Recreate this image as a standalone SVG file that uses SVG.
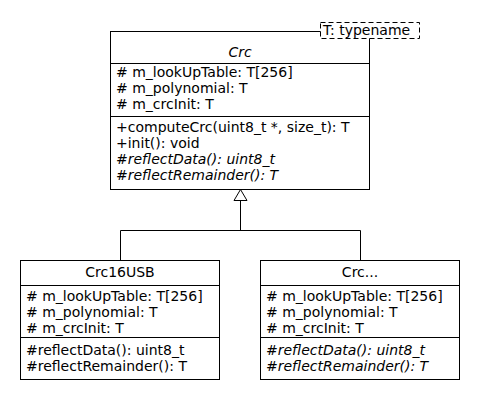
<svg xmlns="http://www.w3.org/2000/svg" width="480" height="400" viewBox="0 0 480 400">
<style>
.box{fill:#fff;stroke:#000;stroke-width:1}
.ln{stroke:#000;stroke-width:1;fill:none}
text{font-family:"DejaVu Sans",sans-serif;font-size:14px;fill:#000}
.it{font-style:italic}
.c{text-anchor:middle}
</style>
<rect width="480" height="400" fill="#fff"/>
<g id="connectors">
<path class="ln" d="M240.5 200.5V230.5M120.5 260V230.5H360.5V260"/>
<polygon points="240.5,189.5 234,200.5 247,200.5" fill="#fff" stroke="#000"/>
</g>
<g id="Crc">
<rect class="box" x="110.5" y="31.5" width="259" height="158"/>
<line class="ln" x1="110.5" y1="63.5" x2="369.5" y2="63.5"/>
<line class="ln" x1="110.5" y1="116.5" x2="369.5" y2="116.5"/>
<text class="it c" x="240" y="57">Crc</text>
<text x="116" y="77"># m_lookUpTable: T[256]</text>
<text x="116" y="93"># m_polynomial: T</text>
<text x="116" y="109"># m_crcInit: T</text>
<text x="116" y="132">+computeCrc(uint8_t *, size_t): T</text>
<text x="116" y="148">+init(): void</text>
<text class="it" x="116" y="164">#reflectData(): uint8_t</text>
<text class="it" x="116" y="180">#reflectRemainder(): T</text>
<rect x="320.5" y="22.5" width="99" height="16" fill="#fff" stroke="#000" stroke-dasharray="5,3"/>
<text x="323" y="35">T: typename</text>
</g>
<g id="Crc16USB">
<rect class="box" x="20.5" y="260.5" width="199" height="119"/>
<line class="ln" x1="20.5" y1="285.5" x2="219.5" y2="285.5"/>
<line class="ln" x1="20.5" y1="337.5" x2="219.5" y2="337.5"/>
<text class="c" x="120" y="277">Crc16USB</text>
<text x="26" y="301"># m_lookUpTable: T[256]</text>
<text x="26" y="317"># m_polynomial: T</text>
<text x="26" y="333"># m_crcInit: T</text>
<text x="26" y="355">#reflectData(): uint8_t</text>
<text x="26" y="371">#reflectRemainder(): T</text>
</g>
<g id="CrcEtc">
<rect class="box" x="260.5" y="260.5" width="199" height="119"/>
<line class="ln" x1="260.5" y1="285.5" x2="459.5" y2="285.5"/>
<line class="ln" x1="260.5" y1="337.5" x2="459.5" y2="337.5"/>
<text class="c" x="360" y="277">Crc...</text>
<text x="266" y="301"># m_lookUpTable: T[256]</text>
<text x="266" y="317"># m_polynomial: T</text>
<text x="266" y="333"># m_crcInit: T</text>
<text class="it" x="266" y="355">#reflectData(): uint8_t</text>
<text class="it" x="266" y="371">#reflectRemainder(): T</text>
</g>
</svg>
